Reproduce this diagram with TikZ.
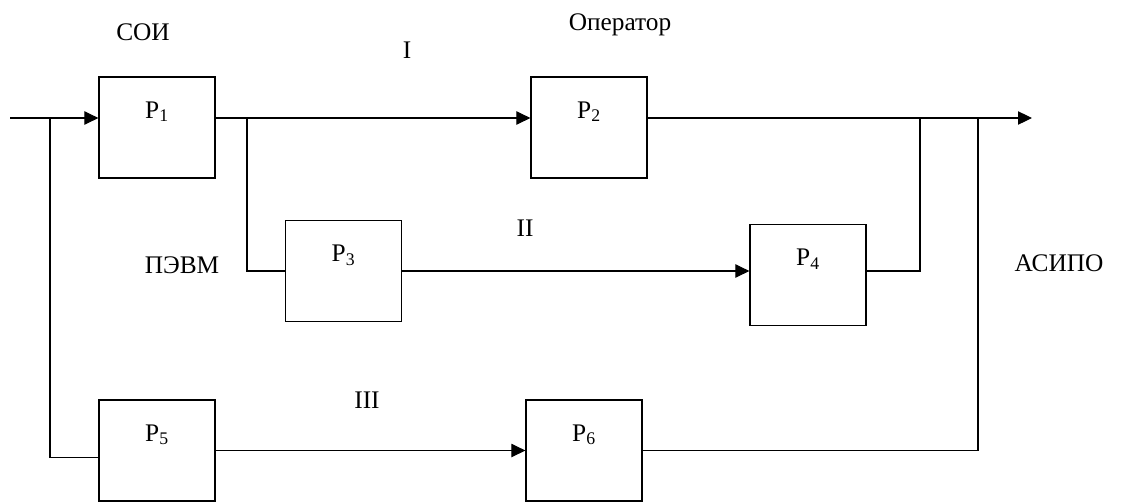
\documentclass[tikz,border=0pt]{standalone}
\usepackage{fontspec}
\setmainfont{Liberation Serif}
\usetikzlibrary{positioning, arrows.meta}
\tikzset{
    block/.style={
        draw,
        line width=0.9pt,
        rectangle,
        minimum width=87pt,
        minimum height=75.75pt,
        inner sep=0pt,
        text height=30.75pt,
        text depth=45pt,
    },
    tag/.style={
        inner sep=0pt,
    }
}

\begin{document}
\begin{tikzpicture}[x=0.75pt, y=-0.75pt, line width=0.8pt,
    >={Triangle[length=10.5pt, width=10pt]},
    font=\fontsize{19}{21}\selectfont]
   \useasboundingbox (0,0) rectangle (1123,501);
   \node[block] (p1) at (157,127.5) {Р\textsubscript{1}};
   \node[block] (p2) at (589,127.5) {Р\textsubscript{2}};
   \node[block] (p3) at (343.5,271) {Р\textsubscript{3}};
   \node[block] (p4) at (808,275) {Р\textsubscript{4}};
   \node[block] (p5) at (157,450.5) {Р\textsubscript{5}};
   \node[block] (p6) at (584,450.5) {Р\textsubscript{6}};
   \node[tag] (soi) at (143,32) {СОИ};
   \node[tag] (op) at (620,25) {Оператор};
   \node[tag] (pevm) at (182,265) {ПЭВМ};
   \node[tag] (asipo) at (1059,263) {АСИПО};
   \node[tag] (r1) at (407,50) {I};
   \node[tag] (r2) at (525,228) {II};
   \node[tag] (r3) at (367,400) {III};
   \coordinate (in) at (10,118);
   \coordinate (s1) at (50,118);
   \coordinate (s2) at (247,118);
   \coordinate (j4) at (920,118);
   \coordinate (j6) at (978,118);
   \coordinate (out) at (1032,118);
   \draw[->] (in) to (p1.west |- in);
   \draw (s1) |- ([yshift=-5pt]p5.west);
   \draw[->] (p1.east |- in) to (p2.west |- in);
   \draw[->] (p2.east |- in) to (out);
   \draw (s2) |- (p3.west);
   \draw[->] (p3.east) to (p4.west |- p3.east);
   \draw (p4.east |- p3.east) -| (j4);
   \draw[->] (p5.east) to (p6.west);
   \draw (p6.east) -| (j6);
\end{tikzpicture}
\end{document}
